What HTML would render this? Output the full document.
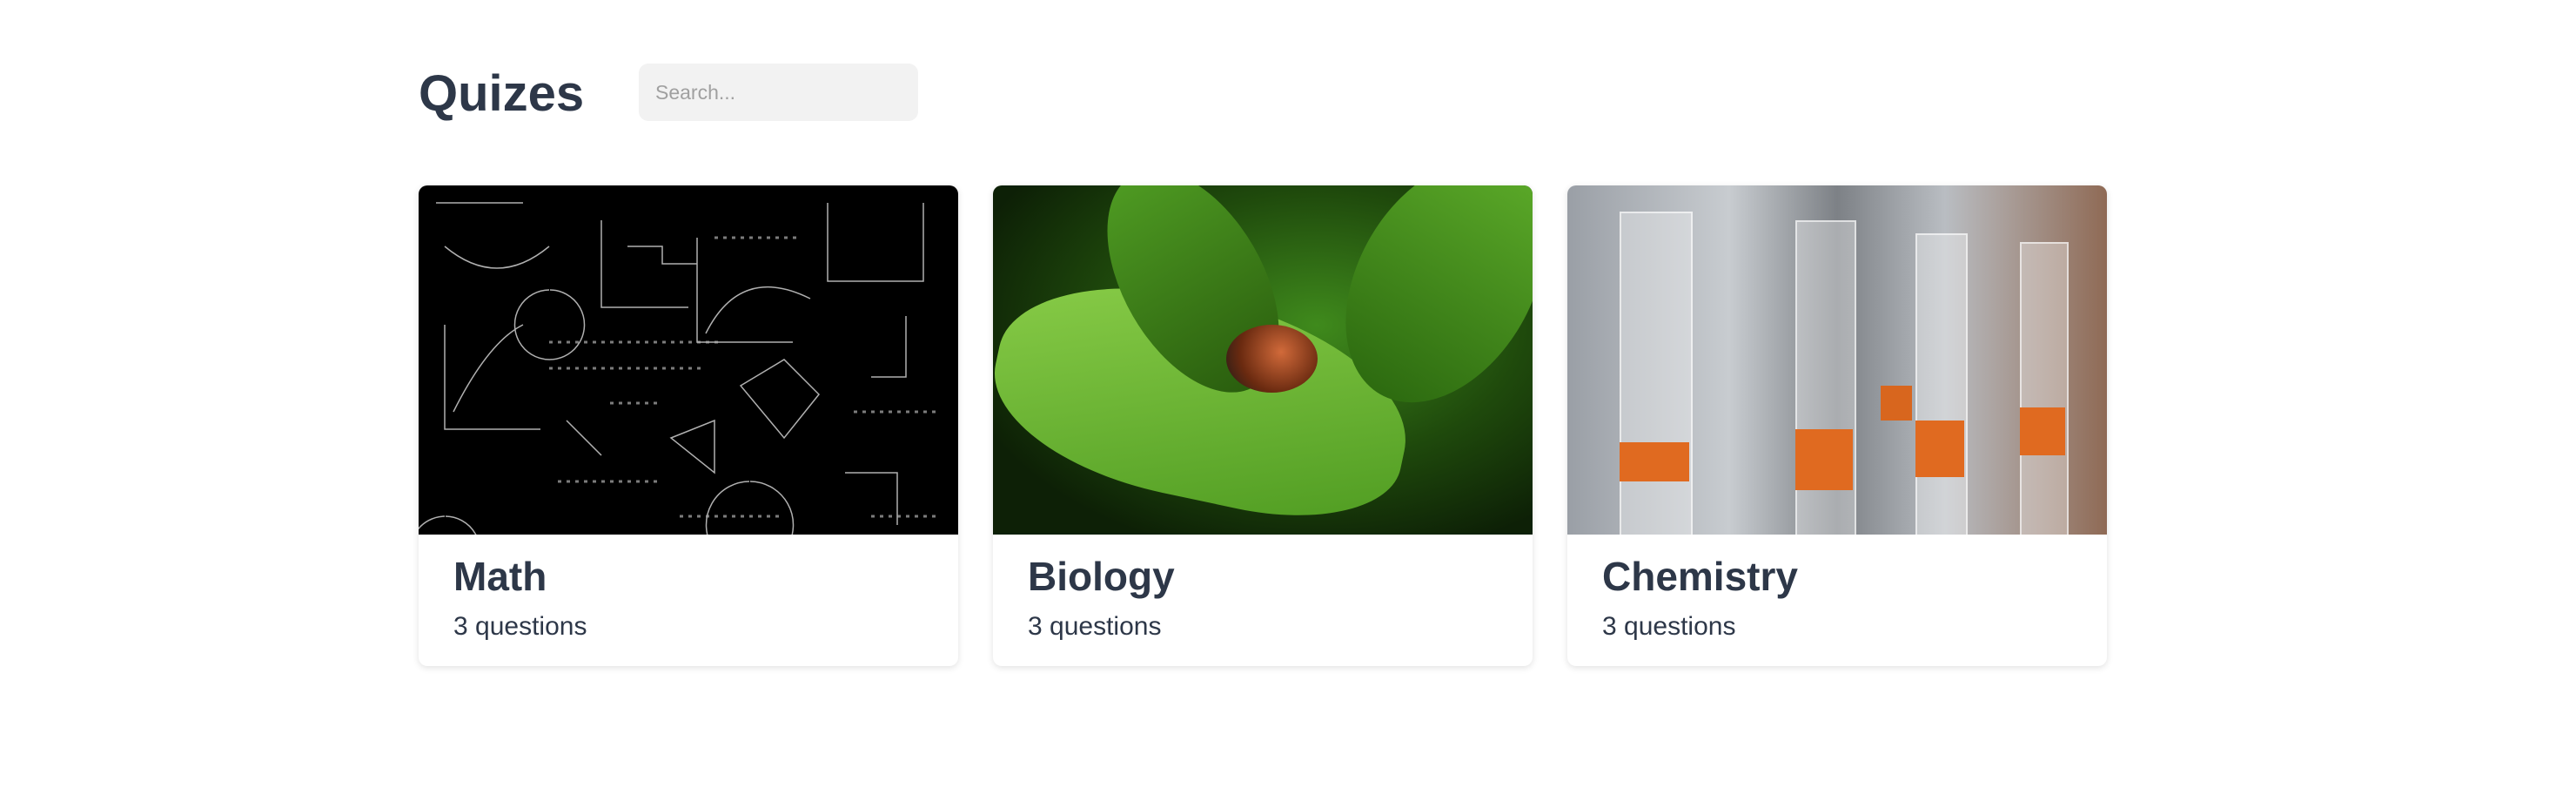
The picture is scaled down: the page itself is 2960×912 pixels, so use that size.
<!DOCTYPE html>
<html><head><meta charset="utf-8"><style>
body{margin:0;width:2960px;height:912px;background:#fff;font-family:"Liberation Sans",sans-serif;color:#2d3748;position:relative;overflow:hidden}
h1{position:absolute;left:481px;top:68px;margin:0;font-size:58px;font-weight:bold;line-height:80px}
.search{position:absolute;left:734px;top:73px;width:321px;height:66px;border-radius:11px;background:#f2f2f2;box-sizing:border-box;padding-left:19px;font-size:23px;line-height:66px;color:#a0a0a0}
.card{position:absolute;top:213px;width:620px;height:552px;border-radius:10px;background:#fff;box-shadow:0 2px 8px rgba(0,0,0,.12);overflow:hidden}
.img{height:401px;position:relative;overflow:hidden}
.t{position:absolute;left:40px;top:422px;font-size:46px;font-weight:bold}
.q{position:absolute;left:40px;top:490px;font-size:30px}
</style></head><body>
<h1>Quizes</h1>
<div class="search">Search...</div>

<div class="card" style="left:481px">
 <div class="img" style="background:#000">
  <svg width="620" height="401" stroke="#ddd" fill="none" stroke-width="1.5" opacity="0.8">
   <path d="M20 20h100M30 70q60 50 120 0M150 120a40 40 0 1 0 1 0M210 40v100h100M240 70h40v20h40M320 60v120h110M330 170q40-80 120-40M470 20v90h110V20M30 160v120h110M40 260q40-80 80-100M370 230l50-30 40 40-40 50zM170 270l40 40M560 150v70h-40M30 380a40 40 0 1 0 1 0M290 290l50-20v60zM380 340a50 50 0 1 0 1 0M490 330h60v60"/>
   <g stroke-width="3" stroke-dasharray="4 6" opacity=".7"><path d="M150 180h200M150 210h180M340 60h100M500 260h100M520 380h80M160 340h120M300 380h120M220 250h60"/></g>
  </svg>
 </div>
 <div class="t">Math</div>
 <div class="q">3 questions</div>
</div>

<div class="card" style="left:1141px">
 <div class="img" style="background:radial-gradient(ellipse at 60% 40%,#3f8a1c 0%,#1f4a0c 45%,#0d2006 80%)">
  <div style="position:absolute;left:0;top:130px;width:480px;height:230px;border-radius:50% 60% 40% 50%;background:linear-gradient(160deg,#8ccf4a,#4d9a20);transform:rotate(12deg)"></div>
  <div style="position:absolute;left:420px;top:-40px;width:200px;height:300px;border-radius:50%;background:linear-gradient(#5aa828,#2d6b10);transform:rotate(30deg)"></div>
  <div style="position:absolute;left:150px;top:-30px;width:160px;height:280px;border-radius:50%;background:linear-gradient(#4e9a22,#2a5e0e);transform:rotate(-30deg)"></div>
  <div style="position:absolute;left:268px;top:160px;width:105px;height:78px;border-radius:50%;background:radial-gradient(circle at 60% 40%,#d16a3a,#6a2a10 60%,#1a1a1a)"></div>
 </div>
 <div class="t">Biology</div>
 <div class="q">3 questions</div>
</div>

<div class="card" style="left:1801px">
 <div class="img" style="background:linear-gradient(90deg,#9a9fa6,#c8ccd0 30%,#7d8186 50%,#b9bdc2 70%,#8f6a55)">
  <div style="position:absolute;left:60px;top:30px;width:80px;height:380px;background:rgba(255,255,255,.35);border:2px solid rgba(255,255,255,.6)"></div>
  <div style="position:absolute;left:262px;top:40px;width:66px;height:370px;background:rgba(255,255,255,.35);border:2px solid rgba(255,255,255,.6)"></div>
  <div style="position:absolute;left:400px;top:55px;width:56px;height:350px;background:rgba(255,255,255,.35);border:2px solid rgba(255,255,255,.6)"></div>
  <div style="position:absolute;left:520px;top:65px;width:52px;height:340px;background:rgba(255,255,255,.35);border:2px solid rgba(255,255,255,.6)"></div>
  <div style="position:absolute;left:60px;top:295px;width:80px;height:45px;background:#e06a20"></div>
  <div style="position:absolute;left:262px;top:280px;width:66px;height:70px;background:#e06a20"></div>
  <div style="position:absolute;left:400px;top:270px;width:56px;height:65px;background:#e06a20"></div>
  <div style="position:absolute;left:520px;top:255px;width:52px;height:55px;background:#e06a20"></div>
  <div style="position:absolute;left:360px;top:230px;width:36px;height:40px;background:#d8661e"></div>
 </div>
 <div class="t">Chemistry</div>
 <div class="q">3 questions</div>
</div>
</body></html>
